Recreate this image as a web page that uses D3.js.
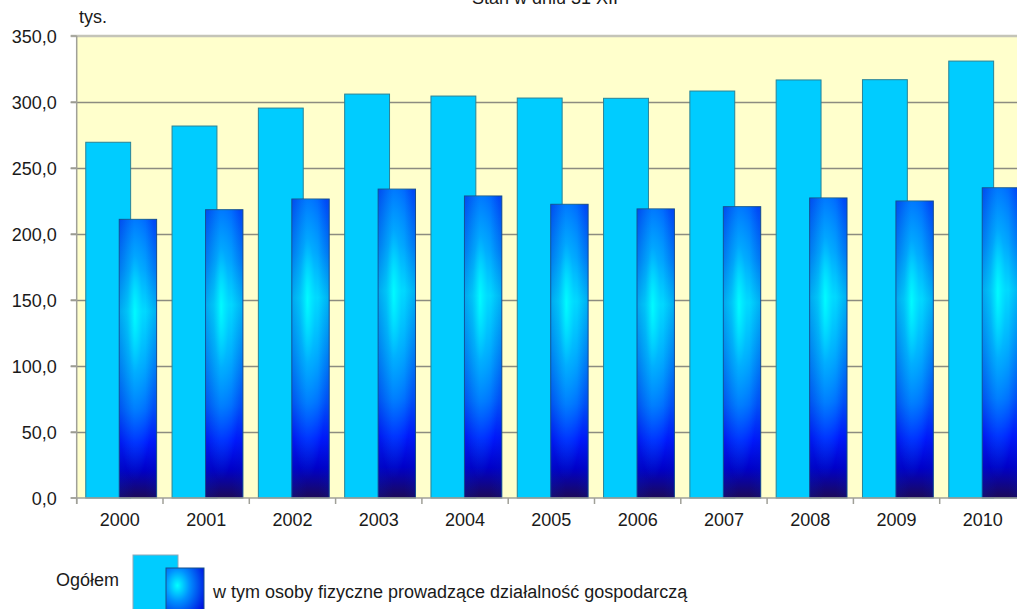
<!DOCTYPE html>
<html><head><meta charset="utf-8">
<script src="https://cdn.jsdelivr.net/npm/d3@7"></script>
<style>body{margin:0;background:#fff;overflow:hidden}svg{display:block}text{font-family:"Liberation Sans",Arial,sans-serif;fill:#1a1a1a}</style>
</head><body>
<script>
const years = ["2000","2001","2002","2003","2004","2005","2006","2007","2008","2009","2010"];
const ogolem = [269.5, 281.8, 295.4, 306.0, 304.5, 303.0, 302.8, 308.3, 316.7, 316.9, 331.0];
const osoby = [211.1, 218.4, 226.5, 234.0, 228.8, 222.5, 219.0, 220.7, 227.3, 225.0, 235.0];
const yTicks = [0, 50, 100, 150, 200, 250, 300, 350];
const title = "Stan w dniu 31 XII";
const unit = "tys.";
const legendLabels = ["Ogółem", "w tym osoby fizyczne prowadzące działalność gospodarczą"];

const W = 1017, H = 609, FS = 18;
const svg = d3.select("body").append("svg").attr("width", W).attr("height", H);
const defs = svg.append("defs");
const lg = defs.append("linearGradient").attr("id","darkLin").attr("x1",0).attr("y1",0).attr("x2",0).attr("y2",1);
[[0,"#0050ff"],[0.18,"#0088ff"],[0.33,"#00d0ff"],[0.5,"#0098ff"],[0.68,"#0058ff"],[0.8,"#0018ff"],[0.9,"#0000c8"],[1,"#1c0a58"]]
  .forEach(([o,c])=>lg.append("stop").attr("offset",o).attr("stop-color",c));
const rg = defs.append("radialGradient").attr("id","darkRad").attr("cx",0.42).attr("cy",0.34).attr("r",0.6);
[[0,"#00ffff",0.9],[0.35,"#00e8ff",0.4],[1,"#00e8ff",0]]
  .forEach(([o,c,a])=>rg.append("stop").attr("offset",o).attr("stop-color",c).attr("stop-opacity",a));
const hg = defs.append("linearGradient").attr("id","darkEdge").attr("x1",0).attr("y1",0).attr("x2",1).attr("y2",0);
[[0,"#0020c0",0.25],[0.4,"#0020c0",0],[0.7,"#0020c0",0],[1,"#0020c0",0.2]]
  .forEach(([o,c,a])=>hg.append("stop").attr("offset",o).attr("stop-color",c).attr("stop-opacity",a));
const lgRad = defs.append("radialGradient").attr("id","legRad").attr("cx",0.3).attr("cy",0.35).attr("r",0.8);
[[0,"#00ffff"],[0.4,"#0090ff"],[1,"#0010e0"]].forEach(([o,c])=>lgRad.append("stop").attr("offset",o).attr("stop-color",c));

const x0 = 76.7, step = 86.3;
const x = d3.scaleBand().domain(years).range([x0, x0 + step*years.length]).padding(0);
const y = d3.scaleLinear().domain([0,350]).range([498,36]);
const bw = x.bandwidth();

svg.append("rect").attr("x",x0).attr("y",y(350)).attr("width",W-x0).attr("height",y(0)-y(350)).attr("fill","#ffffcc");

svg.append("g").selectAll("line").data(yTicks.filter(t=>t>0 && t<350)).join("line")
  .attr("x1",x0-6).attr("x2",W).attr("y1",d=>y(d)+0.5).attr("y2",d=>y(d)+0.5)
  .attr("stroke","#8c8c80").attr("stroke-width",1.3);
svg.append("line").attr("x1",x0-6).attr("x2",W).attr("y1",y(350)).attr("y2",y(350)).attr("stroke","#c4c4b8").attr("stroke-width",2.5);

const g = svg.append("g");
g.selectAll("rect.og").data(years).join("rect").attr("class","og")
  .attr("x",d=>x(d)+bw*0.105).attr("width",bw*0.52)
  .attr("y",(d,i)=>y(ogolem[i])).attr("height",(d,i)=>y(0)-y(ogolem[i]))
  .attr("fill","#00ccff").attr("stroke","#2a8296").attr("stroke-width",1);
const dx = d=>x(d)+bw*0.493, dw = bw*0.433;
["url(#darkLin)","url(#darkRad)","url(#darkEdge)"].forEach((f,k)=>{
  g.selectAll("rect.os"+k).data(years).join("rect").attr("class","os"+k)
    .attr("x",dx).attr("width",dw)
    .attr("y",(d,i)=>y(osoby[i])).attr("height",(d,i)=>y(0)-y(osoby[i]))
    .attr("fill",f).attr("stroke",k===0?"#17508a":"none").attr("stroke-width",1);
});

svg.append("line").attr("x1",x0).attr("x2",x0).attr("y1",y(350)).attr("y2",y(0)+6).attr("stroke","#a0a098").attr("stroke-width",1.5);
svg.append("line").attr("x1",x0-6).attr("x2",W).attr("y1",y(0)).attr("y2",y(0)).attr("stroke","#a0a098").attr("stroke-width",1.5);
svg.append("g").selectAll("line").data(yTicks).join("line")
  .attr("x1",x0-6).attr("x2",x0).attr("y1",d=>y(d)).attr("y2",d=>y(d)).attr("stroke","#a0a098").attr("stroke-width",1.5);
svg.append("g").selectAll("line").data(years).join("line")
  .attr("x1",d=>x(d)).attr("x2",d=>x(d)).attr("y1",y(0)).attr("y2",y(0)+6).attr("stroke","#a0a098").attr("stroke-width",1.5);

const fmt = v => d3.format(".1f")(v).replace(".",",");
svg.append("g").selectAll("text").data(yTicks).join("text")
  .attr("x",x0-20).attr("y",d=>y(d)+6.5).attr("text-anchor","end").attr("font-size",FS).text(fmt);
svg.append("g").selectAll("text").data(years).join("text")
  .attr("x",d=>x(d)+bw/2).attr("y",y(0)+28).attr("text-anchor","middle").attr("font-size",FS).text(d=>d);

svg.append("text").attr("x",79).attr("y",23).attr("font-size",FS).text(unit);
svg.append("text").attr("x",545).attr("y",4).attr("text-anchor","middle").attr("font-size",FS).text(title);

svg.append("text").attr("x",56).attr("y",586).attr("font-size",FS).text(legendLabels[0]);
svg.append("rect").attr("x",133).attr("y",555).attr("width",45).attr("height",60).attr("fill","#00ccff").attr("stroke","#8fa8b8").attr("stroke-width",1);
svg.append("rect").attr("x",166).attr("y",568).attr("width",38).attr("height",50).attr("fill","url(#legRad)").attr("stroke","#17508a").attr("stroke-width",1);
svg.append("text").attr("x",213).attr("y",598).attr("font-size",FS).text(legendLabels[1]);
</script>
</body></html>
